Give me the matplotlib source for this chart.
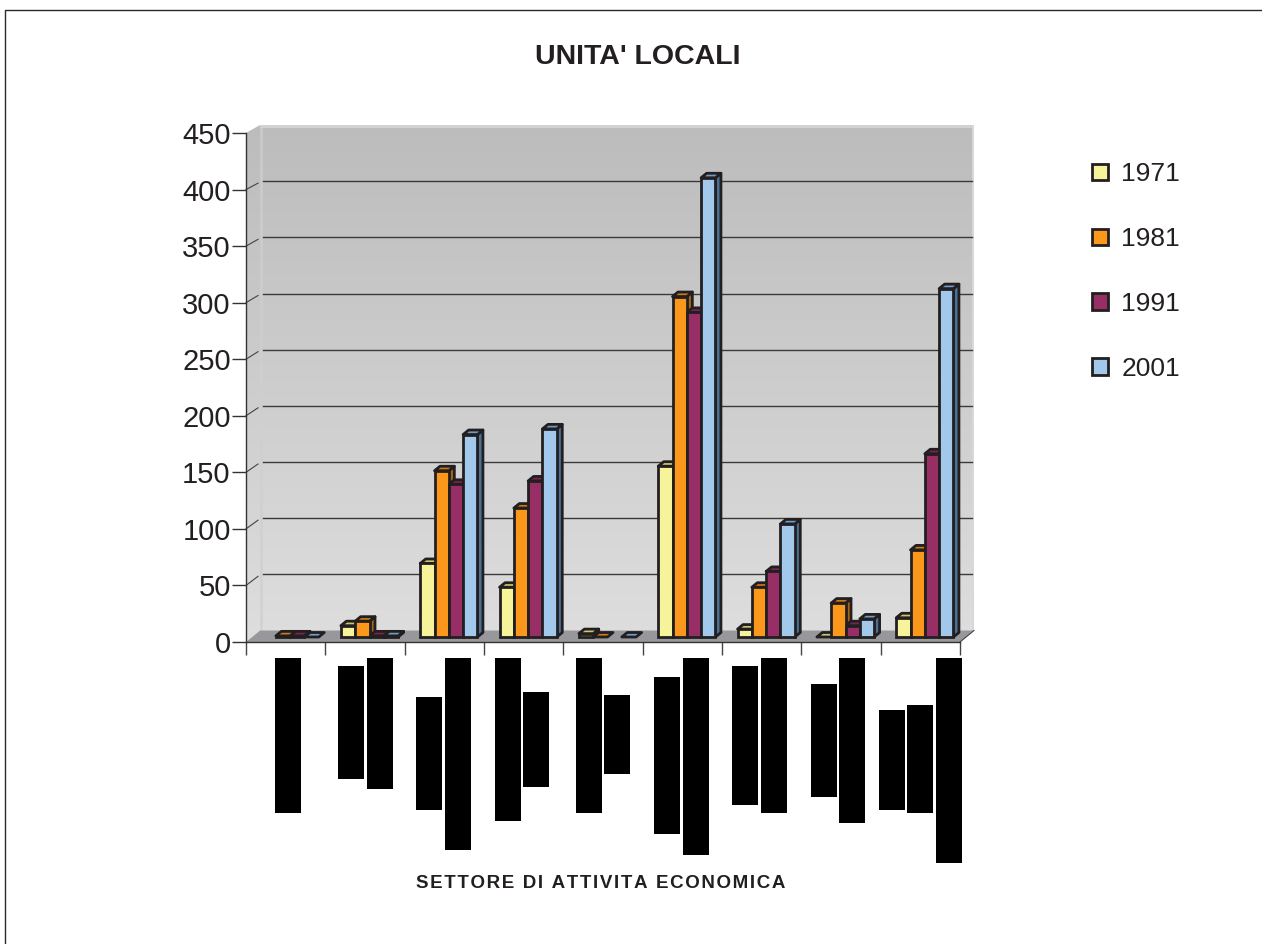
import matplotlib
matplotlib.use("Agg")
import matplotlib.pyplot as plt
from matplotlib.colors import LinearSegmentedColormap
from matplotlib.patches import Polygon, Rectangle, Patch
from matplotlib.lines import Line2D
import numpy as np

plt.rcParams['font.family'] = ['Liberation Sans', 'DejaVu Sans']

W, H = 1262, 944

years = ['1971', '1981', '1991', '2001']
# None = no bar drawn at all in the reference
v1971 = [None, 10, 65, 44, 3, 151, 7, 0, 17]
v1981 = [1, 14, 147, 114, 0, 301, 44, 30, 77]
v1991 = [1, 1, 135, 138, None, 287, 58, 10, 162]
v2001 = [0, 1, 179, 184, 0, 406, 100, 16, 308]
y_ticks = [0, 50, 100, 150, 200, 250, 300, 350, 400, 450]

front = ['#f6f39a', '#fb981c', '#982e66', '#a2c8ec']
side = ['#a8a566', '#a5661a', '#6a2048', '#4a7096']
top = ['#c9c66e', '#c9791a', '#7a2452', '#6f9dca']
edge = '#231f20'

# black boxes covering the category labels: left, top, bottom (pixels)
label_boxes = [(275, 658, 813), (338, 666, 779), (367, 658, 789), (416, 697, 810),
               (445, 658, 850), (495, 658, 821), (523, 692, 787), (576, 658, 813),
               (604, 695, 774), (654, 677, 834), (683, 658, 855), (732, 666, 805),
               (761, 658, 813), (811, 684, 797), (839, 658, 823), (879, 710, 810),
               (907, 705, 813), (936, 658, 863)]

fig = plt.figure(figsize=(W / 100, H / 100), dpi=100)
left, right, ytop, ybot = 246, 960, 133, 642
ax = fig.add_axes([left / W, 1 - ybot / H, (right - left) / W, (ybot - ytop) / H])
ax.patch.set_visible(False)

px_x = 9 / (right - left)
px_y = 450 / (ybot - ytop)
wall_dx = 14 * px_x


def wall_y(t):
    # back wall is a bit shorter than the front axis: 11.5px up at the floor, 8px at the top
    return t + (11.5 - 3.5 * t / 450) * px_y


cmap = LinearSegmentedColormap.from_list('wall', ['#bcbcbc', '#dedede'])


def gradient(clip):
    g = np.linspace(0, 1, 256).reshape(-1, 1)
    im = ax.imshow(g, extent=(-0.2, 9.4, 0, 460), origin='upper', aspect='auto', cmap=cmap,
                   vmin=0, vmax=1, zorder=1)
    im.set_clip_path(clip)
    im.set_clip_box(fig.bbox)


# walls and floor
y_lo, y_hi = wall_y(0), wall_y(450)
wall = Polygon([(wall_dx, y_lo), (9 + wall_dx, y_lo), (9 + wall_dx, y_hi), (wall_dx, y_hi)],
               fc='none', ec='none', clip_on=False)
ax.add_patch(wall)
gradient(wall)
sidewall = Polygon([(0, 0), (wall_dx, y_lo), (wall_dx, y_hi), (0, 450)],
                   fc='none', ec='none', clip_on=False)
ax.add_patch(sidewall)
gradient(sidewall)
ax.add_patch(Rectangle((wall_dx, y_lo), 3 * px_x, y_hi - y_lo, fc='#cfcfd1', ec='none', alpha=0.7, zorder=1.5, clip_on=False))
ax.add_patch(Rectangle((wall_dx, y_hi - 3 * px_y), 9, 3 * px_y, fc='#d2d2d2', ec='none', zorder=1.5, clip_on=False))
ax.add_patch(Rectangle((9 + wall_dx - 2 * px_x, y_lo), 2 * px_x, y_hi - y_lo, fc='#d8d8d8', ec='none', zorder=1.5, clip_on=False))
ax.add_patch(Polygon([(0, 0), (9, 0), (9 + wall_dx, y_lo), (wall_dx, y_lo)],
                     fc='#98989c', ec='none', zorder=1.6, clip_on=False))

# gridlines on the back wall + little diagonals on the side wall
for t in y_ticks[1:-1]:
    ax.plot([wall_dx + 3 * px_x, 9 + wall_dx - 2 * px_x], [wall_y(t), wall_y(t)], color='#3a3a3a', lw=1.0, zorder=2, clip_on=False)
    ax.plot([0, wall_dx - 2 * px_x], [t, wall_y(t) - 2 * px_y], color='#444444', lw=0.8, zorder=2, clip_on=False)
ax.plot([9, 9 + wall_dx], [0, y_lo], color='#444444', lw=0.8, zorder=2, clip_on=False)

# 3d bars
series = [v1971, v1981, v1991, v2001]
bar_w = 14.3 * px_x
depth_x, depth_y = 5.5 * px_x, 4.5 * px_y
lift = 5 * px_y
shift = 4.5 * px_x
lw = 2.0
x0 = np.arange(9) + 0.5 + shift
z = 3
for c in range(9):
    for s in range(4):
        v = series[s][c]
        if v is None:
            continue
        x = x0[c] + (s - 2) * bar_w
        b = lift
        t = lift + v
        if v > 0:
            ax.add_patch(Polygon([(x + bar_w, b), (x + bar_w + depth_x, b + depth_y),
                                  (x + bar_w + depth_x, t + depth_y), (x + bar_w, t)],
                                 fc=side[s], ec=edge, lw=lw, joinstyle='round', zorder=z, clip_on=False))
        ax.add_patch(Polygon([(x, t), (x + bar_w, t), (x + bar_w + depth_x, t + depth_y), (x + depth_x, t + depth_y)],
                             fc=top[s], ec=edge, lw=lw, joinstyle='round', zorder=z, clip_on=False))
        z += 0.01
    # fronts after the tops and sides of the same group
    xs = [x0[c] + (s - 2) * bar_w for s in range(4) if series[s][c]]
    hs = [series[s][c] for s in range(4) if series[s][c]]
    cs = [front[s] for s in range(4) if series[s][c]]
    ax.bar(xs, hs, bar_w, bottom=lift, align='edge', color=cs, edgecolor=edge, linewidth=lw,
           zorder=z + 0.5, clip_on=False)

ax.set_xlim(0, 9)
ax.set_ylim(0, 450)

for sp in ['top', 'right']:
    ax.spines[sp].set_visible(False)
for sp in ['left', 'bottom']:
    ax.spines[sp].set_color('#333333')
    ax.spines[sp].set_linewidth(1.0)
    ax.spines[sp].set_zorder(20)
ax.set_yticks(y_ticks)
ax.set_xticks(range(10))
ax.set_xticklabels([])
ax.tick_params(axis='y', length=10, width=1.0, color='#333333', labelsize=21, labelcolor='#231f20', pad=1)
ax.tick_params(axis='x', length=9, width=1.0, color='#444444')

# redacted category labels
for (lx, ty, by) in label_boxes:
    fig.add_artist(Rectangle((lx / W, 1 - by / H), 26 / W, (by - ty) / H, fc='black', ec='none',
                             transform=fig.transFigure))

fig.text(637.5 / W, 1 - 56.5 / H, "UNITA' LOCALI", ha='center', va='center', fontsize=20.5, fontweight='bold', color='#231f20')
# the reference text is letter-spaced: hair spaces between the glyphs
xlabel = '\u200a'.join('SETTORE DI ATTIVITA ECONOMICA')
fig.text(600.5 / W, 1 - 883 / H, xlabel, ha='center', va='center', fontsize=13.5,
         fontweight='bold', color='#231f20')

handles = [Patch(fc=front[i], ec=edge, lw=2.0, label=years[i]) for i in range(4)]
fig.legend(handles=handles, loc='upper left', bbox_to_anchor=(1087 / W, 1 - 157 / H), frameon=False, fontsize=19,
           labelcolor='#231f20', handlelength=0.6, handleheight=0.6, handletextpad=0.5, labelspacing=1.55,
           borderpad=0.2, borderaxespad=0)

# page frame: only top and left edges show
fig.add_artist(Line2D([5 / W, 5 / W, 1], [0, 1 - 10 / H, 1 - 10 / H], color='#2a2a2a', lw=1.0,
                      transform=fig.transFigure))

fig.savefig('out.png', dpi=100, facecolor='white')
